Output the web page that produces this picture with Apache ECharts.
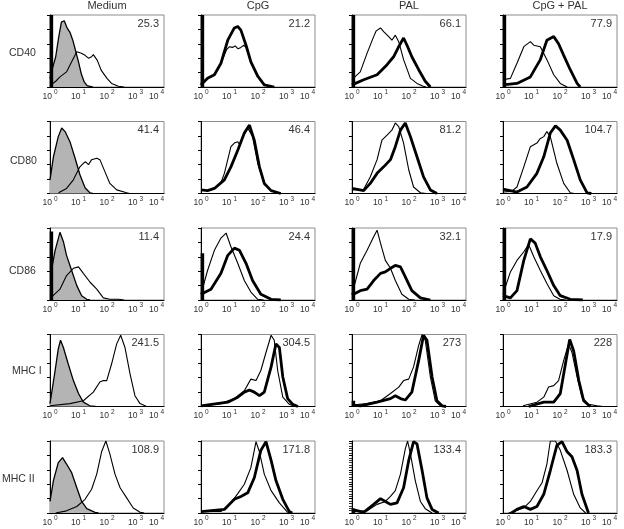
<!DOCTYPE html>
<html><head><meta charset="utf-8">
<script src="https://cdn.jsdelivr.net/npm/echarts@6/dist/echarts.min.js"></script>
<style>html,body{margin:0;padding:0;background:#fff}#c{width:624px;height:529px}</style>
</head><body><div id="c"></div>
<script>
// ---------- labels ----------
const columns = ['Medium', 'CpG', 'PAL', 'CpG + PAL'];
const rowNames = ['CD40', 'CD80', 'CD86', 'MHC I', 'MHC II'];
const xTickExponents = [0, 1, 2, 3, 4];
// MFI values shown in each panel (row by row)
const mfi_CD40 = ['25.3', '21.2', '66.1', '77.9'];
const mfi_CD80 = ['41.4', '46.4', '81.2', '104.7'];
const mfi_CD86 = ['11.4', '24.4', '32.1', '17.9'];
const mfi_MHC1 = ['241.5', '304.5', '273', '228'];
const mfi_MHC2 = ['108.9', '171.8', '133.4', '183.3'];
// height (% of max) of the first-channel pile-up at the left edge
const spike_CD40 = [100, 100, 100, 100];
const spike_CD80 = [0, 0, 0, 0];
const spike_CD86 = [95, 65, 100, 100];
const spike_MHC1 = [0, 0, 8, 0];
const spike_MHC2 = [0, 0, 6, 0];

// ---------- histograms: [log10 fluorescence, % of panel max] ----------
// CD40
const CD40_iso = [[0,12],[0.1,28],[0.2,42],[0.3,68],[0.4,90],[0.5,92],[0.6,82],[0.7,76],[0.8,65],[0.9,50],[1.0,35],[1.1,18],[1.2,7],[1.3,2],[1.4,1],[1.5,0]];
const CD40_med = [[0,2],[0.2,8],[0.35,14],[0.58,21],[0.76,35],[0.94,49],[1.0,50],[1.1,47],[1.23,44],[1.35,40],[1.46,42],[1.52,45],[1.58,44],[1.66,37],[1.8,23],[2.0,12],[2.16,5],[2.4,1],[2.6,0]];
const CD40_cpg_thin = [[0,3],[0.23,12],[0.47,17],[0.7,33],[0.9,52],[1.0,56],[1.1,55],[1.2,57],[1.3,53],[1.4,55],[1.5,58],[1.58,55],[1.75,35],[1.99,15],[2.22,3],[2.5,0]];
const CD40_cpg_thick = [[0,3],[0.23,12],[0.47,17],[0.7,33],[0.94,65],[1.17,82],[1.29,84],[1.4,79],[1.58,58],[1.75,35],[1.99,15],[2.22,3],[2.57,0]];
const CD40_pal_thin = [[0,10],[0.1,14],[0.29,21],[0.53,47],[0.76,70],[0.85,78],[1.0,82],[1.11,77],[1.29,70],[1.4,65],[1.52,72],[1.64,63],[1.81,38],[2.05,12],[2.28,5],[2.5,1],[2.6,0]];
const CD40_pal_thick = [[0,3],[0.41,10],[0.88,17],[1.23,31],[1.46,42],[1.64,56],[1.81,68],[1.93,58],[2.1,42],[2.34,24],[2.57,8],[2.75,0]];
const CD40_both_thin = [[0,10],[0.26,12],[0.49,33],[0.73,56],[0.96,63],[1.08,58],[1.31,56],[1.54,38],[1.78,17],[2.01,5],[2.25,0]];
const CD40_both_thick = [[0,3],[0.49,5],[0.96,14],[1.31,38],[1.54,65],[1.78,70],[1.95,60],[2.13,44],[2.36,24],[2.6,5],[2.71,0]];
// CD80
const CD80_iso = [[0,19],[0.12,51],[0.29,79],[0.41,91],[0.53,86],[0.7,72],[0.88,49],[1.05,26],[1.23,8],[1.4,1],[1.5,0]];
const CD80_med = [[0.3,1],[0.58,7],[0.82,19],[1.05,37],[1.17,42],[1.25,44],[1.35,40],[1.46,47],[1.64,49],[1.75,47],[1.93,30],[2.1,14],[2.34,5],[2.69,1],[2.8,0]];
const CD80_cpg_thin = [[0,5],[0.23,4],[0.47,7],[0.7,15],[0.82,28],[1.05,65],[1.17,70],[1.29,72],[1.35,68],[1.46,77],[1.64,91],[1.81,79],[1.99,42],[2.22,14],[2.46,4],[2.8,0]];
const CD80_cpg_thick = [[0,5],[0.23,4],[0.47,7],[0.82,19],[1.05,37],[1.29,60],[1.52,84],[1.7,95],[1.87,74],[2.05,37],[2.22,14],[2.46,4],[2.8,0]];
const CD80_pal_thin = [[0,5],[0.41,6],[0.64,23],[0.88,47],[1.05,74],[1.23,81],[1.4,88],[1.52,98],[1.64,93],[1.81,70],[1.99,33],[2.16,9],[2.4,1],[2.6,0]];
const CD80_pal_thick = [[0,7],[0.41,4],[0.64,14],[0.88,28],[1.11,37],[1.35,47],[1.52,65],[1.7,88],[1.87,98],[2.05,79],[2.28,51],[2.51,23],[2.75,5],[2.98,0]];
const CD80_both_thin = [[0,2],[0.3,3],[0.49,9],[0.73,37],[0.96,65],[1.19,70],[1.3,76],[1.43,79],[1.54,86],[1.66,79],[1.89,42],[2.13,14],[2.36,1],[2.5,0]];
const CD80_both_thick = [[0,6],[0.49,2],[0.84,9],[1.19,28],[1.43,51],[1.66,84],[1.84,94],[2.01,88],[2.25,74],[2.48,47],[2.71,19],[2.95,1],[3.1,0]];
// CD86
const CD86_iso = [[0.05,41],[0.18,69],[0.35,94],[0.47,81],[0.58,62],[0.76,41],[0.94,20],[1.11,6],[1.29,1],[1.4,0]];
const CD86_med = [[0.05,4],[0.35,15],[0.58,34],[0.82,44],[1.0,46],[1.17,37],[1.4,25],[1.64,15],[1.87,3],[2.1,1],[2.4,1],[2.6,0]];
const CD86_cpg_thin = [[0,8],[0.23,41],[0.47,69],[0.7,86],[0.88,93],[1.05,74],[1.29,51],[1.52,27],[1.75,11],[1.99,1],[2.2,0]];
const CD86_cpg_thick = [[0,8],[0.35,15],[0.7,37],[0.94,62],[1.17,72],[1.35,69],[1.58,51],[1.81,27],[2.1,8],[2.46,1],[2.8,0]];
const CD86_pal_thin = [[0,8],[0.29,51],[0.53,69],[0.76,88],[0.88,97],[1.0,79],[1.17,55],[1.35,44],[1.52,27],[1.75,8],[1.99,1],[2.2,0]];
const CD86_pal_thick = [[0,7],[0.29,13],[0.53,15],[0.76,27],[1.0,37],[1.17,39],[1.35,44],[1.52,48],[1.7,46],[1.87,32],[2.1,13],[2.4,3],[2.75,0]];
const CD86_both_thin = [[0,8],[0.26,39],[0.49,55],[0.73,67],[0.9,77],[1.08,60],[1.31,41],[1.54,23],[1.78,6],[2.0,1],[2.2,0]];
const CD86_both_thick = [[0,6],[0.26,3],[0.49,13],[0.73,55],[0.96,85],[1.13,79],[1.31,60],[1.54,41],[1.78,20],[2.01,6],[2.36,1],[2.8,0]];
// MHC I
const MHC1_iso = [[0,4],[0.18,50],[0.29,80],[0.37,92],[0.47,82],[0.64,59],[0.82,36],[1.0,18],[1.17,6],[1.4,1],[1.6,0]];
const MHC1_med = [[0,1],[0.7,4],[1.17,8],[1.52,20],[1.75,34],[1.87,36],[1.99,36],[2.16,59],[2.34,87],[2.48,99],[2.63,82],[2.81,45],[2.98,15],[3.16,4],[3.39,0]];
const MHC1_cpg_thin = [[0,1],[0.7,4],[1.17,11],[1.52,22],[1.75,38],[1.93,36],[2.1,50],[2.28,75],[2.46,99],[2.57,92],[2.69,50],[2.87,13],[3.1,3],[3.3,0]];
const MHC1_cpg_thick = [[0,1],[0.94,6],[1.29,13],[1.52,20],[1.7,23],[1.87,20],[2.05,15],[2.22,20],[2.46,55],[2.63,87],[2.75,82],[2.87,41],[3.04,11],[3.22,3],[3.4,0]];
const MHC1_pal_thin = [[0,2],[0.53,4],[1.0,8],[1.35,18],[1.64,27],[1.81,36],[1.99,38],[2.16,55],[2.34,85],[2.46,100],[2.57,92],[2.75,41],[2.92,8],[3.1,1],[3.3,0]];
const MHC1_pal_thick = [[0,2],[0.3,1],[0.88,6],[1.35,11],[1.52,15],[1.7,11],[1.87,9],[2.1,20],[2.34,64],[2.51,99],[2.63,92],[2.81,41],[2.98,8],[3.16,1],[3.3,0]];
const MHC1_both_thin = [[0.7,1],[1.19,6],[1.43,13],[1.6,27],[1.78,29],[1.95,36],[2.13,64],[2.3,87],[2.42,75],[2.6,41],[2.77,13],[3.0,3],[3.3,1],[3.5,0]];
const MHC1_both_thick = [[0.9,0],[1.43,6],[1.78,6],[2.01,18],[2.19,59],[2.34,93],[2.48,77],[2.66,36],[2.83,8],[3.06,0]];
// MHC II
const MHC2_iso = [[0,16],[0.12,45],[0.29,70],[0.44,77],[0.58,68],[0.76,56],[0.94,35],[1.11,16],[1.29,6],[1.58,1],[1.7,0]];
const MHC2_med = [[0.2,0],[0.58,3],[0.94,9],[1.23,19],[1.46,33],[1.64,54],[1.81,85],[1.96,100],[2.1,82],[2.28,54],[2.46,35],[2.69,21],[2.92,7],[3.16,1],[3.3,0]];
const MHC2_cpg_thin = [[0,2],[0.7,2],[1.05,14],[1.29,27],[1.52,40],[1.75,63],[1.93,99],[2.05,85],[2.22,54],[2.46,31],[2.75,14],[3.04,1],[3.2,0]];
const MHC2_cpg_thick = [[0,2],[0.82,5],[1.17,19],[1.4,23],[1.64,28],[1.87,49],[2.1,87],[2.28,99],[2.46,73],[2.63,45],[2.87,19],[3.1,2],[3.2,0]];
const MHC2_pal_thin = [[0,2],[0.53,3],[0.88,12],[1.17,16],[1.35,23],[1.52,31],[1.7,54],[1.87,89],[1.95,100],[2.05,82],[2.22,45],[2.4,16],[2.57,6],[2.81,0]];
const MHC2_pal_thick = [[0,5],[0.41,1],[0.76,12],[1.0,20],[1.17,16],[1.35,12],[1.58,14],[1.81,35],[1.99,73],[2.16,99],[2.28,96],[2.46,59],[2.63,21],[2.81,5],[3.04,0]];
const MHC2_both_thin = [[0.2,0],[0.73,7],[0.96,16],[1.19,31],[1.37,42],[1.54,68],[1.66,100],[1.84,100],[2.01,87],[2.25,59],[2.48,26],[2.71,7],[2.9,0]];
const MHC2_both_thick = [[0.3,0],[0.49,5],[0.73,9],[0.96,5],[1.19,9],[1.43,26],[1.66,59],[1.89,94],[2.07,99],[2.25,85],[2.42,78],[2.6,59],[2.77,26],[3.0,0]];

// ---------- assemble panel table ----------
const rowsData = [
  { mfi: mfi_CD40, spike: spike_CD40, iso: CD40_iso, thin: [CD40_med, CD40_cpg_thin, CD40_pal_thin, CD40_both_thin], thick: [null, CD40_cpg_thick, CD40_pal_thick, CD40_both_thick] },
  { mfi: mfi_CD80, spike: spike_CD80, iso: CD80_iso, thin: [CD80_med, CD80_cpg_thin, CD80_pal_thin, CD80_both_thin], thick: [null, CD80_cpg_thick, CD80_pal_thick, CD80_both_thick] },
  { mfi: mfi_CD86, spike: spike_CD86, iso: CD86_iso, thin: [CD86_med, CD86_cpg_thin, CD86_pal_thin, CD86_both_thin], thick: [null, CD86_cpg_thick, CD86_pal_thick, CD86_both_thick] },
  { mfi: mfi_MHC1, spike: spike_MHC1, iso: MHC1_iso, thin: [MHC1_med, MHC1_cpg_thin, MHC1_pal_thin, MHC1_both_thin], thick: [null, MHC1_cpg_thick, MHC1_pal_thick, MHC1_both_thick] },
  { mfi: mfi_MHC2, spike: spike_MHC2, iso: MHC2_iso, thin: [MHC2_med, MHC2_cpg_thin, MHC2_pal_thin, MHC2_both_thin], thick: [null, MHC2_cpg_thick, MHC2_pal_thick, MHC2_both_thick] }
];

// ---------- layout ----------
const FONT = '"Liberation Sans", Arial, sans-serif';
const TXT = '#333';
const L0 = 50, DX = 151, W = 114;
const T0 = 15, DY = 106.5, H = 72;
const rowLabelPos = [[9, 53], [10, 161], [9, 271], [12, 371], [2, 479]];

const grids = [], xAxes = [], yAxes = [], series = [], graphics = [];
let k = 0;
rowsData.forEach((row, r) => {
  columns.forEach((col, c) => {
    const left = L0 + DX * c, top = T0 + DY * r;
    grids.push({ left: left, top: top, width: W, height: H, show: true, borderColor: '#8c8c8c', borderWidth: 1, backgroundColor: 'transparent' });
    xAxes.push({
      type: 'value', gridIndex: k, min: 0, max: 4, interval: 1,
      axisLine: { show: true, lineStyle: { color: '#000', width: 1 } },
      axisTick: { show: false }, splitLine: { show: false },
      axisLabel: {
        margin: 2, alignMaxLabel: 'right',
        formatter: v => '{b|10}{s|' + xTickExponents[Math.round(v)] + '}',
        rich: {
          b: { fontSize: 8.5, fontFamily: FONT, color: TXT, lineHeight: 12, verticalAlign: 'bottom' },
          s: { fontSize: 6.5, fontFamily: FONT, color: TXT, lineHeight: 12, verticalAlign: 'top', padding: [0, 0, 0, 2] }
        }
      }
    });
    const minor = (r === 4 && c === 2);
    yAxes.push({
      type: 'value', gridIndex: k, min: 0, max: 100, interval: 20,
      axisLine: { show: true, lineStyle: { color: '#000', width: 1 } },
      axisTick: { show: true, length: 3, lineStyle: { color: '#000' } },
      minorTick: { show: minor, splitNumber: 6, length: 3, lineStyle: { color: '#333' } },
      axisLabel: { show: false }, splitLine: { show: false }
    });
    if (c === 0) {
      series.push({ type: 'line', xAxisIndex: k, yAxisIndex: k, data: row.iso, symbol: 'none', silent: true,
        lineStyle: { color: '#000', width: 1.3 }, areaStyle: { color: '#b4b4b4', opacity: 1, origin: 'start' } });
    }
    series.push({ type: 'line', xAxisIndex: k, yAxisIndex: k, data: row.thin[c], symbol: 'none', silent: true,
      lineStyle: { color: '#000', width: 1.1 } });
    if (row.thick[c]) {
      series.push({ type: 'line', xAxisIndex: k, yAxisIndex: k, data: row.thick[c], symbol: 'none', silent: true,
        lineStyle: { color: '#000', width: 2.8 } });
    }
    if (row.spike[c] > 0) {
      series.push({ type: 'line', xAxisIndex: k, yAxisIndex: k, data: [[0.05, 0], [0.05, row.spike[c]]], symbol: 'none', silent: true,
        lineStyle: { color: '#000', width: 3.5 } });
    }
    graphics.push({ type: 'text', right: 624 - (left + W - 5), top: top + 3,
      style: { text: row.mfi[c], font: '11px ' + FONT, fill: TXT, textAlign: 'right' } });
    k++;
  });
});
columns.forEach((col, c) => {
  graphics.push({ type: 'text', x: L0 + DX * c + W / 2, y: 6,
    style: { text: col, font: '11px ' + FONT, fill: TXT, textAlign: 'center', textVerticalAlign: 'middle' } });
});
rowNames.forEach((name, r) => {
  graphics.push({ type: 'text', x: rowLabelPos[r][0], y: rowLabelPos[r][1],
    style: { text: name, font: '10.5px ' + FONT, fill: TXT, textAlign: 'left', textVerticalAlign: 'middle' } });
});

const chart = echarts.init(document.getElementById('c'), null, { renderer: 'canvas' });
chart.setOption({
  animation: false, backgroundColor: '#fff',
  grid: grids, xAxis: xAxes, yAxis: yAxes, series: series, graphic: graphics
});
</script>
</body></html>
